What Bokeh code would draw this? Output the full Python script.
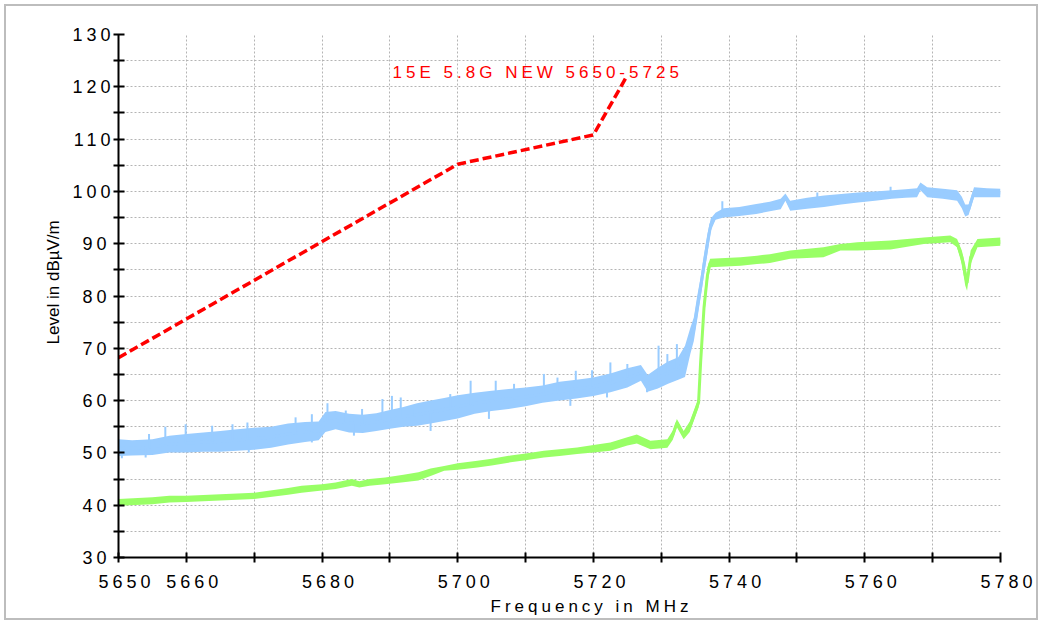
import numpy as np
from bokeh.plotting import figure
from bokeh.layouts import row
from bokeh.models import FixedTicker, Range1d
from bokeh.core.properties import value
from bokeh.embed import file_html
from bokeh.resources import INLINE

# ---------------- data ----------------
blue_freq = [5650, 5652, 5655, 5657.5, 5660, 5662.5, 5665, 5667.5, 5670, 5672.5,
             5675, 5677.5, 5679.5, 5680.5, 5682, 5684, 5686, 5688, 5690, 5692,
             5694, 5696, 5698, 5700, 5702.5, 5705, 5707.5, 5710, 5712.5, 5715,
             5717.5, 5720, 5722.5, 5725, 5727, 5728, 5729.5, 5731, 5732.5, 5733.5,
             5734.3, 5734.8, 5735.3, 5735.8, 5736.3, 5736.8, 5737.3, 5738, 5739.2, 5741.5,
             5744, 5746, 5747.6, 5748.3, 5749, 5751.5, 5754, 5756.5, 5759, 5761.5,
             5764, 5766, 5767.7, 5768.2, 5769.2, 5771.5, 5773.6, 5774.3, 5774.8, 5775.3,
             5776.1, 5778, 5780]
blue_lo = [49.4, 49.5, 49.6, 50.1, 50.1, 50.2, 50.2, 50.4, 50.6, 51.0,
           51.6, 52.1, 52.4, 54.0, 54.5, 53.9, 53.8, 54.2, 54.6, 55.0,
           55.2, 55.6, 56.1, 56.6, 57.5, 58.0, 58.4, 58.9, 59.6, 60.0,
           60.4, 60.9, 61.6, 62.5, 63.8, 61.7, 62.3, 63.2, 64.0, 64.5,
           69.0, 71.4, 75.5, 79.7, 84.0, 88.0, 92.5, 94.6, 95.0, 95.3,
           95.7, 96.2, 96.6, 98.2, 96.3, 96.7, 97.0, 97.5, 97.9, 98.2,
           98.6, 98.8, 98.9, 100.2, 98.9, 98.6, 98.2, 96.8, 95.2, 95.5,
           98.9, 98.9, 98.9]
blue_hi = [52.6, 52.4, 52.6, 53.3, 53.6, 53.9, 54.2, 54.5, 54.8, 55.0,
           55.6, 55.9, 56.0, 57.8, 58.0, 57.5, 57.3, 57.6, 58.2, 58.8,
           59.5, 60.0, 60.5, 61.0, 61.5, 61.9, 62.2, 62.5, 62.9, 63.6,
           64.0, 64.4, 65.2, 66.2, 66.8, 64.9, 66.3, 67.5, 68.3, 70.5,
           74.0, 75.9, 80.0, 83.6, 88.0, 91.9, 94.8, 95.9, 96.8, 97.0,
           97.6, 98.0, 98.6, 99.6, 98.2, 98.8, 99.2, 99.5, 99.8, 100.0,
           100.2, 100.4, 100.6, 101.7, 100.8, 100.5, 100.2, 99.0, 97.5, 97.5,
           100.8, 100.6, 100.5]

# upward noise spikes of the blue trace
blue_spike_freq = [5654.5, 5656.9, 5659.9, 5663.8, 5666.8, 5669.0, 5676.1, 5678.5,
                   5680.8, 5683.5, 5685.9, 5688.9, 5690.3, 5691.6, 5693.3, 5698.9,
                   5701.9, 5705.6, 5708.3, 5712.7, 5714.7, 5717.4, 5719.8, 5722.5,
                   5725.0, 5729.6, 5730.9, 5732.3, 5739.0, 5753.0, 5763.8]
blue_spike_top = [53.6, 55.0, 55.5, 55.2, 55.5, 55.8, 56.8, 57.4,
                  59.5, 58.1, 58.4, 60.3, 60.9, 60.6, 59.0, 61.25,
                  63.8, 63.8, 63.2, 65.1, 64.4, 65.7, 65.8, 67.3,
                  67.0, 70.5, 68.9, 70.8, 98.1, 99.8, 100.9]
# downward noise spikes of the blue trace
blue_dip_freq = [5650.5, 5654.0, 5669.2, 5678.5, 5684.7, 5696.0, 5704.6, 5716.6,
                 5722.0, 5727.9]
blue_dip_bottom = [49.0, 49.1, 50.1, 52.0, 53.3, 54.2, 56.5, 59.0,
                   60.6, 61.6]

green_freq = [5650, 5655, 5657.5, 5660, 5665, 5670, 5675, 5677, 5680, 5682,
              5684.4, 5685.5, 5687, 5689.3, 5692, 5694.2, 5696, 5698, 5700, 5702.9,
              5705, 5707.8, 5710, 5712.7, 5715, 5717.6, 5720, 5722.5, 5725, 5726.4,
              5728.4, 5730.9, 5731.7, 5732.3, 5733.3, 5734.2, 5734.8, 5735.5, 5735.8, 5736.3,
              5736.8, 5737.2, 5741.7, 5744.1, 5746, 5749, 5753.9, 5756.4, 5758.9, 5763.8,
              5768.7, 5772.6, 5773.6, 5774.3, 5774.8, 5775.07, 5775.6, 5776.6, 5780]
green_lo = [39.9, 40.2, 40.5, 40.6, 40.9, 41.2, 42.0, 42.4, 42.8, 43.1,
            43.7, 43.4, 43.7, 44.0, 44.4, 44.7, 45.6, 46.6, 46.8, 47.2,
            47.6, 48.2, 48.6, 49.1, 49.4, 49.8, 50.1, 50.4, 51.4, 51.8,
            50.7, 51.0, 52.5, 54.9, 52.6, 54.0, 56.15, 58.7, 65.1, 75.9,
            82.3, 85.5, 85.8, 86.1, 86.3, 87.1, 87.4, 88.7, 88.7, 88.9,
            89.95, 90.3, 89.3, 86.1, 82.0, 81.0, 86.1, 89.3, 89.6]
green_hi = [41.2, 41.5, 41.8, 41.8, 42.1, 42.4, 43.3, 43.7, 44.0, 44.35,
            45.0, 44.6, 45.0, 45.3, 45.8, 46.3, 47.0, 47.5, 48.0, 48.5,
            48.9, 49.5, 49.9, 50.4, 50.7, 51.05, 51.5, 52.0, 53.0, 53.5,
            52.3, 52.6, 54.3, 56.5, 54.2, 56.0, 58.1, 60.6, 69.5, 79.7,
            85.5, 87.1, 87.4, 87.7, 88.0, 88.7, 89.3, 89.95, 90.3, 90.6,
            91.2, 91.55, 90.9, 88.7, 86.0, 84.0, 88.7, 90.9, 91.2]

limit_freq = [5650, 5700, 5720, 5725]
limit_level = [68.2, 105.2, 110.8, 122.2]
limit_label = "15E 5.8G NEW 5650-5725"

x_ticks = [5650, 5660, 5670, 5680, 5690, 5700, 5710, 5720, 5730, 5740, 5750, 5760, 5770, 5780]
x_unlabeled = [5670, 5690, 5710, 5730, 5750, 5770]
y_major = [30, 40, 50, 60, 70, 80, 90, 100, 110, 120, 130]
y_minor = [35, 45, 55, 65, 75, 85, 95, 105, 115, 125]

x_title = "Frequency in MHz"
y_title = "Level in dB\u00b5V/m"

BLUE = "#99CCFF"
GREEN = "#99FF66"
RED = "#FF0000"
GRID = "#B4B4B4"
FONT = "Liberation Sans"

H = 612

# ---------------- main figure ----------------
p = figure(width=970, height=H,
           x_range=Range1d(5650, 5780), y_range=Range1d(30, 130),
           output_backend="svg", toolbar_location=None,
           min_border_left=52, min_border_right=36,
           min_border_top=28, min_border_bottom=61,
           styles={"letter-spacing": "4px"})
p.outline_line_color = None
p.background_fill_color = "white"
p.border_fill_color = "white"

# grids
p.xgrid.grid_line_color = GRID
p.xgrid.grid_line_dash = "2 2"
p.xgrid.grid_line_width = 1
p.ygrid.grid_line_color = GRID
p.ygrid.grid_line_dash = "2 2"
p.ygrid.grid_line_width = 1
p.ygrid.minor_grid_line_color = GRID
p.ygrid.minor_grid_line_dash = "2 2"
p.ygrid.minor_grid_line_width = 1

# axes
xa = p.xaxis[0]
xa.ticker = FixedTicker(ticks=x_ticks)
xa.major_label_overrides = {t: "" for t in x_unlabeled}
xa.axis_label = x_title
xa.axis_label_text_font = FONT
xa.axis_label_text_font_size = "17px"
xa.axis_label_text_font_style = "normal"
xa.axis_label_text_color = "black"
xa.axis_label_standoff = 6
xa.major_label_standoff = 12

ya = p.yaxis[0]
ya.ticker = FixedTicker(ticks=y_major, minor_ticks=y_minor)
ya.major_label_standoff = 11

for ax in (xa, ya):
    ax.axis_line_color = "black"
    ax.axis_line_width = 2
    ax.major_tick_line_color = "black"
    ax.major_tick_line_width = 2
    ax.minor_tick_line_color = "black"
    ax.minor_tick_line_width = 2
    ax.major_label_text_font = FONT
    ax.major_label_text_font_size = "18px"
    ax.major_label_text_color = "black"

xa.major_tick_in = 5
xa.major_tick_out = 5
xa.minor_tick_in = 0
xa.minor_tick_out = 0
ya.major_tick_in = 6
ya.major_tick_out = 5
ya.minor_tick_in = 6
ya.minor_tick_out = 5

# traces
blue_mid = [(a + b) / 2 for a, b in zip(blue_lo, blue_hi)]
green_mid = [(a + b) / 2 for a, b in zip(green_lo, green_hi)]
spike_base = np.interp(blue_spike_freq, blue_freq, blue_mid)
dip_base = np.interp(blue_dip_freq, blue_freq, blue_mid)

p.varea(x=blue_freq, y1=blue_lo, y2=blue_hi, fill_color=BLUE)
p.line(blue_freq, blue_mid, line_color=BLUE, line_width=3)
p.segment(x0=blue_spike_freq, y0=spike_base, x1=blue_spike_freq, y1=blue_spike_top,
          line_color=BLUE, line_width=2)
p.segment(x0=blue_dip_freq, y0=dip_base, x1=blue_dip_freq, y1=blue_dip_bottom,
          line_color=BLUE, line_width=2)

p.varea(x=green_freq, y1=green_lo, y2=green_hi, fill_color=GREEN)
p.line(green_freq, green_mid, line_color=GREEN, line_width=3)

p.line(limit_freq, limit_level, line_color=RED, line_width=3.5, line_dash="9 4")
p.text(x=[5690.4], y=[122.8], text=[limit_label], text_color=RED,
       text_font=value(FONT), text_font_size="17px",
       text_align="left", text_baseline="alphabetic")

# ---------------- y-title strip (no letter spacing) ----------------
lab = figure(width=60, height=H, x_range=Range1d(0, 60), y_range=Range1d(H, 0),
             output_backend="svg", toolbar_location=None,
             min_border=0, min_border_left=0, min_border_right=0,
             min_border_top=0, min_border_bottom=0)
lab.axis.visible = False
lab.grid.visible = False
lab.outline_line_color = None
lab.background_fill_color = "white"
lab.border_fill_color = "white"
lab.text(x=[47], y=[290], text=[y_title], angle=np.pi / 2,
         text_font=value(FONT), text_font_size="17px", text_color="black",
         text_align="center", text_baseline="middle")

layout = row(lab, p, styles={"border": "2px solid #BDBDBD", "margin": "4px 4px 0 4px"})

open("out.html", "w").write(file_html(layout, INLINE))
